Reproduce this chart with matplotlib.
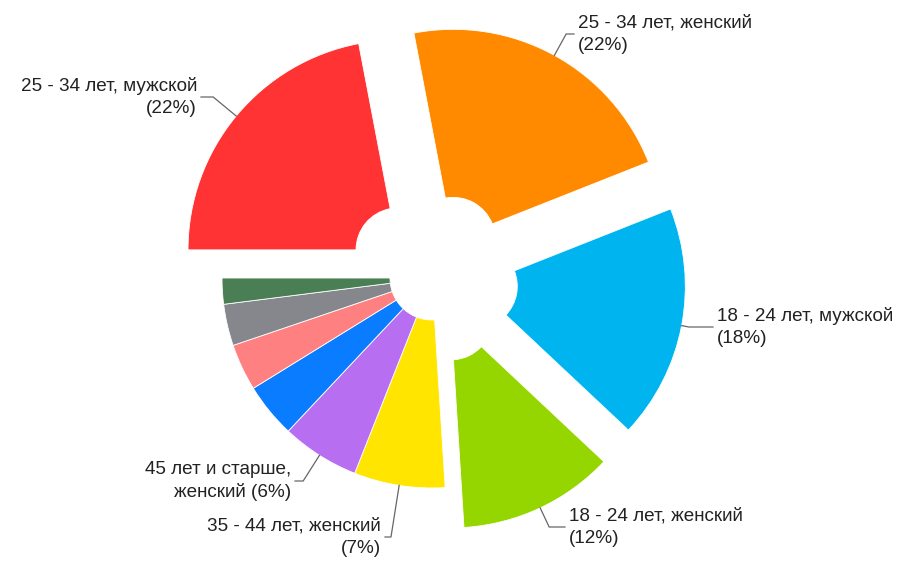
#Pie chart (exploded donut) - audience by age and sex
import numpy as np
import matplotlib.pyplot as plt

plt.rcParams['font.family'] = ['Liberation Sans', 'DejaVu Sans']

#Data - slices go clockwise, starting from the orange one at the top
names = ['25 - 34 лет, женский', '18 - 24 лет, мужской', '18 - 24 лет, женский',
         '35 - 44 лет, женский', '45 лет и старше, женский', '35 - 44 лет, мужской',
         '45 лет и старше, мужской', 'до 18 лет, женский', 'до 18 лет, мужской',
         '25 - 34 лет, мужской']
values = [22, 18, 12, 7, 6, 4.2, 3.6, 3.2, 2.0, 22]
colors = ['#FF8A00', '#00B4F0', '#96D600', '#FFE500', '#B86EF0',
          '#0A7CFF', '#FF8080', '#86878C', '#4A7F55', '#FF3333']
explode = [0.21, 0.21, 0.21, 0, 0, 0, 0, 0, 0, 0.21]

#Label layout in pixels: text x, middle y of the text block, alignment, break after comma
label_layout = [(578, 34, 'left', False), (717, 327, 'left', False), (569, 527, 'left', False),
                (381, 537, 'right', False), (291, 481, 'right', True),
                None, None, None, None,
                (197, 97, 'right', False)]

#Figure size and where the pie sits (pixels)
W, H = 900, 562
cx, cy, R = 432, 278, 210

def px_to_data(px, py):
    return (px - cx) / R, (cy - py) / R

fig = plt.figure(figsize=(W / 100, H / 100), dpi=100)
ax = fig.add_axes([0, 0, 1, 1])

wedges, _ = ax.pie(values, colors=colors, explode=explode, startangle=100.8,
                   counterclock=False, radius=1,
                   wedgeprops=dict(width=0.8, edgecolor='white', linewidth=0.6))

total = sum(values)
for w, name, v, lay in zip(wedges, names, values, label_layout):
    if lay is None:
        continue
    tx, ty, ha, brk = lay
    pct = round(v / total * 100)
    if brk:
        first, rest = name.split(', ')
        text = f'{first},\n{rest} ({pct}%)'
    else:
        text = f'{name}\n({pct}%)'
    #anchor at the middle of the outer arc
    mid = np.radians((w.theta1 + w.theta2) / 2)
    ax_, ay_ = w.center[0] + w.r * np.cos(mid), w.center[1] + w.r * np.sin(mid)
    x_t, y_t = px_to_data(tx, ty)
    #elbow along the radial direction up to the text level
    t = (y_t - ay_) / np.sin(mid)
    ex, ey = ax_ + max(t, 0) * np.cos(mid), y_t
    gap = 4 / R
    end_x = x_t - gap if ha == 'left' else x_t + gap
    ax.plot([ax_, ex, end_x], [ay_, ey, y_t], color='#666666', lw=0.9, solid_joinstyle='miter')
    ax.text(x_t, y_t, text, ha=ha, va='center', multialignment=ha,
            fontsize=13.6, color='#222222', linespacing=1.4)

ax.set_xlim(-cx / R, (W - cx) / R)
ax.set_ylim(-(H - cy) / R, cy / R)
ax.set_aspect('equal')
ax.axis('off')

plt.savefig('out.png', dpi=100, facecolor='white')
